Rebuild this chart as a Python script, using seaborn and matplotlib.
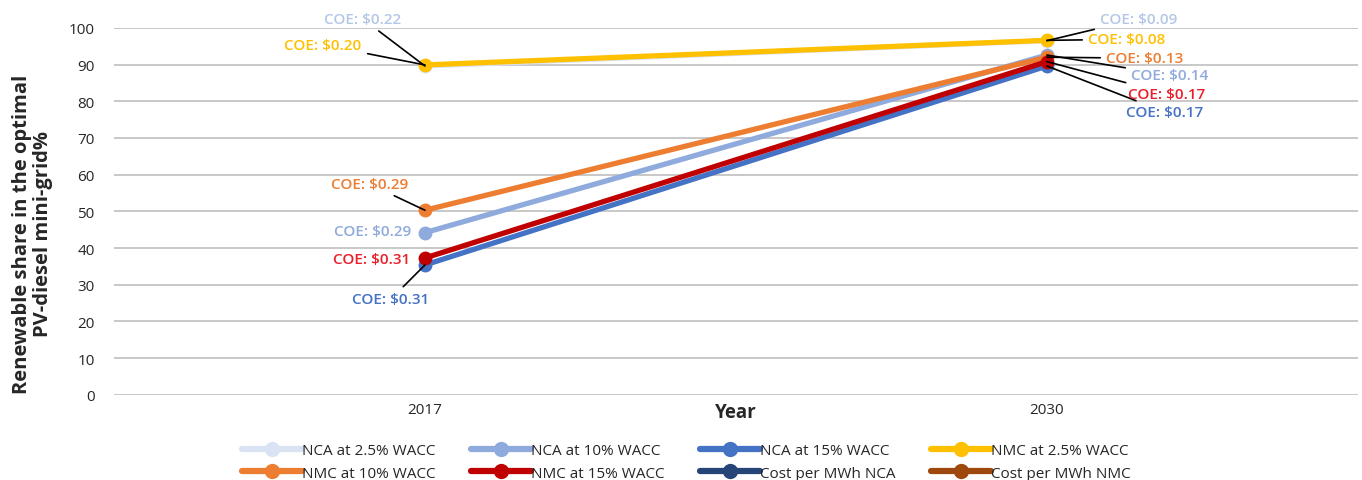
import pandas as pd
import matplotlib.pyplot as plt
import seaborn as sns
from matplotlib.lines import Line2D

# Data
years = ['2017', '2030']
series_names = ['NCA at 2.5% WACC', 'NCA at 10% WACC', 'NCA at 15% WACC',
                'NMC at 2.5% WACC', 'NMC at 10% WACC', 'NMC at 15% WACC']
nca_25 = [89.6, 96.5]
nca_10 = [44.2, 92.6]
nca_15 = [35.4, 89.6]
nmc_25 = [89.9, 96.6]
nmc_10 = [50.3, 92.0]
nmc_15 = [37.3, 90.8]
legend_only = ['Cost per MWh NCA', 'Cost per MWh NMC']

# COE labels per series: (2017 label, 2030 label)
coe_labels = {
    'NCA at 2.5% WACC': ['COE: $0.22', 'COE: $0.09'],
    'NCA at 10% WACC': ['COE: $0.29', 'COE: $0.14'],
    'NCA at 15% WACC': ['COE: $0.31', 'COE: $0.17'],
    'NMC at 2.5% WACC': ['COE: $0.20', 'COE: $0.08'],
    'NMC at 10% WACC': ['COE: $0.29', 'COE: $0.13'],
    'NMC at 15% WACC': ['COE: $0.31', 'COE: $0.17'],
}

colors = {
    'NCA at 2.5% WACC': '#DAE3F3',
    'NCA at 10% WACC': '#8FAADC',
    'NCA at 15% WACC': '#4472C4',
    'NMC at 2.5% WACC': '#FFC000',
    'NMC at 10% WACC': '#ED7D31',
    'NMC at 15% WACC': '#C00000',
    'Cost per MWh NCA': '#264478',
    'Cost per MWh NMC': '#9E480E',
}
label_colors = {
    'NCA at 2.5% WACC': '#B4C7E7',
    'NCA at 10% WACC': '#8FAADC',
    'NCA at 15% WACC': '#4472C4',
    'NMC at 2.5% WACC': '#FFC000',
    'NMC at 10% WACC': '#ED7D31',
    'NMC at 15% WACC': '#E8202A',
}

values = [nca_25, nca_10, nca_15, nmc_25, nmc_10, nmc_15]
rows = []
for name, vals in zip(series_names, values):
    for i, y in enumerate(years):
        rows.append({'Year': y, 'x': i, 'Share': vals[i], 'Series': name})
df = pd.DataFrame(rows)

sns.set_style('white')
plt.rcParams['font.family'] = ['Open Sans', 'DejaVu Sans']

fig = plt.figure(figsize=(13.62, 4.81), dpi=100)
ax = fig.add_axes([0.0837, 0.177, 0.9133, 0.763])

sns.lineplot(data=df, x='x', y='Share', hue='Series', hue_order=series_names,
             palette=colors, marker='o', markersize=10, markeredgewidth=0,
             linewidth=3.8, legend=False, ax=ax)

ax.set_xlim(-0.5, 1.5)
ax.set_ylim(0, 100)
ax.set_xticks(range(len(years)))
ax.set_xticklabels(years)
ax.set_yticks(range(0, 101, 10))
ax.yaxis.grid(True, color='#BFBFBF', linewidth=1.2)
ax.set_axisbelow(True)
for s in ax.spines.values():
    s.set_visible(False)
ax.tick_params(axis='y', length=0, pad=14, labelsize=11, labelcolor='#262626')
ax.tick_params(axis='x', length=0, pad=5, labelsize=11, labelcolor='#262626')
ax.set_xlabel('')
ax.set_ylabel('Renewable share in the optimal\nPV-diesel mini-grid%',
              fontsize=14.5, fontweight='bold', linespacing=1.05)
ax.yaxis.set_label_coords(-0.049, 0.44)
ax.text(0.5, -0.02, 'Year', transform=ax.transAxes, ha='center', va='top',
        fontsize=13.5, fontweight='bold')

# label offsets in pixels from the marker: (dx, dy, draw leader)
offsets = {
    ('NCA at 2.5% WACC', 0): (-62, 47, True),
    ('NMC at 2.5% WACC', 0): (-102, 20, True),
    ('NMC at 10% WACC', 0): (-55, 26, True),
    ('NCA at 10% WACC', 0): (-52, 2, False),
    ('NMC at 15% WACC', 0): (-53, -1, False),
    ('NCA at 15% WACC', 0): (-34, -34, True),
    ('NCA at 2.5% WACC', 1): (92, 22, True),
    ('NMC at 2.5% WACC', 1): (80, 1, True),
    ('NMC at 10% WACC', 1): (98, -1, True),
    ('NCA at 10% WACC', 1): (123, -20, True),
    ('NMC at 15% WACC', 1): (120, -32, True),
    ('NCA at 15% WACC', 1): (118, -46, True),
}
for name, vals in zip(series_names, values):
    for i in range(len(years)):
        dx, dy, leader = offsets[(name, i)]
        arrow = dict(arrowstyle='-', color='black', lw=1.2, shrinkA=2, shrinkB=0) if leader else None
        ax.annotate(coe_labels[name][i], xy=(i, vals[i]), xytext=(dx, dy),
                    textcoords='offset pixels', ha='center', va='center',
                    fontsize=11, fontweight='semibold', color=label_colors[name],
                    arrowprops=arrow, annotation_clip=False, zorder=5)

handles = [Line2D([0], [0], color=colors[n], lw=4.5, marker='o', markersize=11,
                  markeredgewidth=0) for n in series_names + legend_only]
labels = series_names + legend_only
# reorder so rows read left-to-right like the reference
order = [0, 4, 1, 5, 2, 6, 3, 7]
fig.legend([handles[k] for k in order], [labels[k] for k in order],
           loc='lower center', bbox_to_anchor=(0.504, -0.03), ncol=4,
           frameon=False, fontsize=11, handlelength=3.9, columnspacing=2.3,
           handletextpad=0.05, labelspacing=0.5)

plt.savefig('out.png', dpi=100)
